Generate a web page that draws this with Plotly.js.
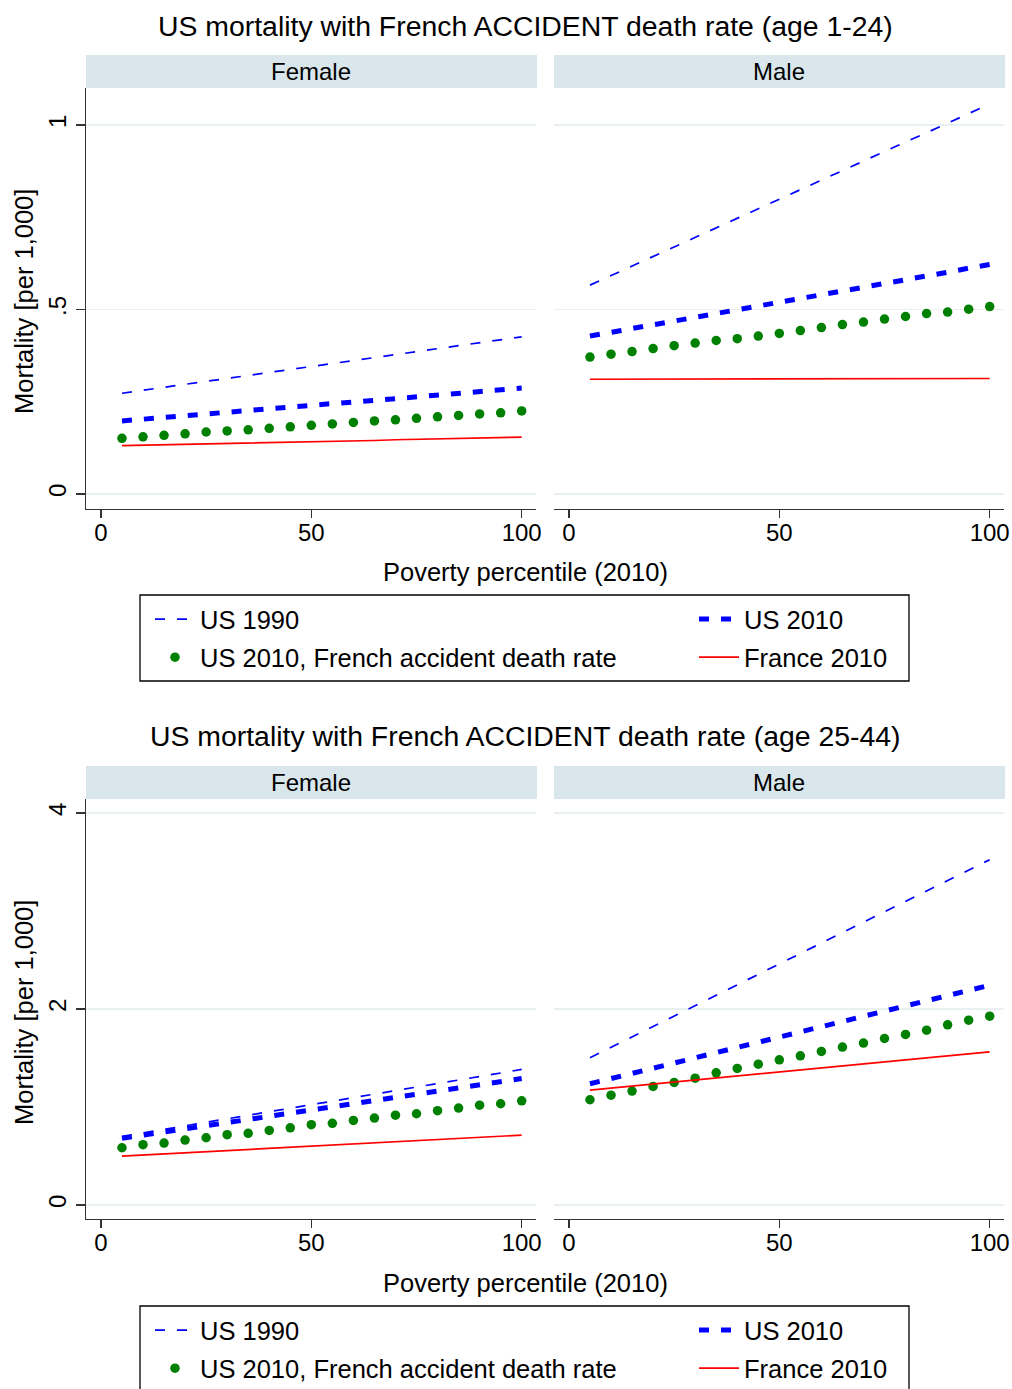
<!DOCTYPE html>
<html>
<head>
<meta charset="utf-8">
<script src="https://cdn.plot.ly/plotly-3.0.1.min.js"></script>
<style>
  html, body { margin: 0; padding: 0; background: #fff; width: 1012px; height: 1389px; overflow: hidden; }
  #chart { width: 1012px; height: 1389px; overflow: hidden; }
</style>
</head>
<body>
<div id="chart"></div>
<script>
// Poverty percentile (ventiles)
const pct = [5, 10, 15, 20, 25, 30, 35, 40, 45, 50, 55, 60, 65, 70, 75, 80, 85, 90, 95, 100];

// Mortality per 1,000, age 1-24
const young_f_us1990 = [0.273,0.281,0.289,0.297,0.305,0.313,0.321,0.329,0.337,0.345,0.354,0.362,0.370,0.378,0.386,0.394,0.402,0.410,0.418,0.426];
const young_f_us2010 = [0.198,0.203,0.207,0.212,0.217,0.221,0.226,0.231,0.235,0.240,0.245,0.249,0.254,0.259,0.264,0.268,0.273,0.278,0.282,0.287];
const young_f_frAcc  = [0.151,0.155,0.159,0.163,0.168,0.171,0.174,0.178,0.182,0.186,0.190,0.194,0.198,0.201,0.205,0.209,0.213,0.217,0.220,0.225];
const young_f_fr2010 = [0.131,0.132,0.133,0.135,0.136,0.137,0.138,0.139,0.141,0.142,0.143,0.144,0.145,0.147,0.148,0.149,0.150,0.151,0.153,0.154];

const young_m_us1990 = [0.566,0.592,0.618,0.644,0.669,0.695,0.721,0.747,0.773,0.799,0.824,0.850,0.876,0.902,0.928,0.954,0.979,1.005,1.031,1.057];
const young_m_us2010 = [0.428,0.438,0.448,0.459,0.469,0.479,0.489,0.499,0.510,0.520,0.530,0.540,0.550,0.561,0.571,0.581,0.591,0.601,0.612,0.622];
const young_m_frAcc  = [0.371,0.379,0.386,0.394,0.402,0.409,0.416,0.421,0.428,0.435,0.443,0.451,0.459,0.466,0.474,0.481,0.489,0.493,0.501,0.508];
const young_m_fr2010 = [0.311,0.311,0.311,0.311,0.311,0.311,0.312,0.312,0.312,0.312,0.312,0.312,0.312,0.312,0.312,0.313,0.313,0.313,0.313,0.313];

// Mortality per 1,000, age 25-44
const adult_f_us1990 = [0.700,0.736,0.772,0.808,0.844,0.880,0.916,0.952,0.988,1.024,1.059,1.095,1.131,1.167,1.203,1.239,1.275,1.311,1.347,1.383];
const adult_f_us2010 = [0.680,0.712,0.744,0.776,0.808,0.840,0.873,0.905,0.937,0.969,1.001,1.033,1.065,1.097,1.129,1.162,1.194,1.226,1.258,1.290];
const adult_f_frAcc  = [0.584,0.615,0.632,0.663,0.686,0.717,0.731,0.761,0.788,0.819,0.833,0.863,0.887,0.917,0.931,0.962,0.989,1.019,1.033,1.063];
const adult_f_fr2010 = [0.499,0.510,0.522,0.533,0.544,0.555,0.567,0.578,0.589,0.600,0.612,0.623,0.634,0.645,0.657,0.668,0.679,0.690,0.702,0.713];

const adult_m_us1990 = [1.502,1.608,1.715,1.821,1.928,2.034,2.141,2.247,2.353,2.460,2.566,2.673,2.779,2.885,2.992,3.098,3.205,3.311,3.418,3.524];
const adult_m_us2010 = [1.237,1.290,1.343,1.396,1.449,1.502,1.555,1.608,1.661,1.714,1.766,1.819,1.872,1.925,1.978,2.031,2.084,2.137,2.190,2.243];
const adult_m_frAcc  = [1.074,1.121,1.162,1.210,1.250,1.294,1.349,1.393,1.437,1.481,1.522,1.567,1.611,1.652,1.699,1.740,1.784,1.838,1.886,1.927];
const adult_m_fr2010 = [1.172,1.193,1.213,1.234,1.254,1.275,1.296,1.316,1.337,1.357,1.378,1.398,1.419,1.440,1.460,1.481,1.501,1.522,1.542,1.563];

// Labels
const seriesNames = ['US 1990', 'US 2010', 'US 2010, French accident death rate', 'France 2010'];
const panelNames = ['Female', 'Male'];
const chartTitles = [
  'US mortality with French ACCIDENT death rate (age 1-24)',
  'US mortality with French ACCIDENT death rate (age 25-44)'
];
const xTitle = 'Poverty percentile (2010)';
const yTitle = 'Mortality [per 1,000]';
const xTickVals = [0, 50, 100];
const yTickValsYoung = [0, 0.5, 1];
const yTickTextYoung = ['0', '.5', '1'];
const yTickValsAdult = [0, 2, 4];
const yTickTextAdult = ['0', '2', '4'];

// ---- drawing ----
const W = 1012, H = 1389;
const px = v => v / W;
const py = v => 1 - v / H;
const FONT = 'Liberation Sans, Arial, Helvetica, sans-serif';
const BLUE = '#0000ff', GREEN = '#008000', RED = '#ff0000';
const AXIS = '#333333', GRID = '#e9f0f2', STRIP = '#d9e6eb';

function panelTraces(xa, ya, vals, legA, legB, show) {
  return [
    { x: pct, y: vals[0], xaxis: xa, yaxis: ya, name: seriesNames[0], type: 'scatter', mode: 'lines',
      line: { color: BLUE, width: 1.7, dash: '10px,12px' }, legend: legA, legendgroup: legA + 'a', showlegend: show },
    { x: pct, y: vals[1], xaxis: xa, yaxis: ya, name: seriesNames[1], type: 'scatter', mode: 'lines',
      line: { color: BLUE, width: 5, dash: '10px,12px' }, legend: legB, legendgroup: legB + 'a', showlegend: show },
    { x: pct, y: vals[2], xaxis: xa, yaxis: ya, name: seriesNames[2], type: 'scatter', mode: 'markers',
      marker: { color: GREEN, size: 9.5, symbol: 'circle' }, legend: legA, legendgroup: legA + 'b', showlegend: show },
    { x: pct, y: vals[3], xaxis: xa, yaxis: ya, name: seriesNames[3], type: 'scatter', mode: 'lines',
      line: { color: RED, width: 1.7 }, legend: legB, legendgroup: legB + 'b', showlegend: show }
  ];
}

const data = [].concat(
  panelTraces('x', 'y', [young_f_us1990, young_f_us2010, young_f_frAcc, young_f_fr2010], 'legend', 'legend2', true),
  panelTraces('x2', 'y2', [young_m_us1990, young_m_us2010, young_m_frAcc, young_m_fr2010], 'legend', 'legend2', false),
  panelTraces('x3', 'y3', [adult_f_us1990, adult_f_us2010, adult_f_frAcc, adult_f_fr2010], 'legend3', 'legend4', true),
  panelTraces('x4', 'y4', [adult_m_us1990, adult_m_us2010, adult_m_frAcc, adult_m_fr2010], 'legend3', 'legend4', false)
);

function xAxis(left, right, anchor) {
  return {
    domain: [px(left), px(right)], anchor: anchor, range: [-3.55, 103.4],
    tickmode: 'array', tickvals: xTickVals, ticks: 'outside', ticklen: 8, tickwidth: 1.3, tickcolor: AXIS,
    ticklabelstandoff: -6,
    showline: true, linecolor: AXIS, linewidth: 1.3, showgrid: false, zeroline: false,
    tickfont: { family: FONT, size: 24, color: '#000' }, fixedrange: true
  };
}
function yAxis(top, bottom, anchor, range, vals, text, first) {
  return {
    domain: [py(bottom), py(top)], anchor: anchor, range: range,
    tickmode: 'array', tickvals: vals, ticktext: text,
    ticks: first ? 'outside' : '', ticklen: 9, tickwidth: 1.3, tickcolor: AXIS,
    showticklabels: first, tickangle: -90,
    showline: first, linecolor: AXIS, linewidth: 1.3,
    showgrid: true, gridcolor: GRID, gridwidth: 1.3, zeroline: false,
    tickfont: { family: FONT, size: 24, color: '#000' }, fixedrange: true
  };
}

function legendAt(left, top) {
  return {
    x: px(left), xanchor: 'left', y: py(top), yanchor: 'top',
    orientation: 'v', bgcolor: 'rgba(0,0,0,0)', borderwidth: 0,
    itemwidth: 40, traceorder: 'grouped', tracegroupgap: 2,
    font: { family: FONT, size: 25.5, color: '#000' }
  };
}

const annotations = [];
const shapes = [];
[0, 711].forEach((off, i) => {
  annotations.push({ text: chartTitles[i], xref: 'paper', yref: 'paper', x: px(525), y: py(25.5 + off),
    xanchor: 'center', yanchor: 'middle', showarrow: false, font: { family: FONT, size: 28.4, color: '#000' } });
  [[86, 536], [554, 1004]].forEach((b, j) => {
    shapes.push({ type: 'rect', xref: 'paper', yref: 'paper', x0: px(b[0]), x1: px(b[1] + 1),
      y0: py(88 + off), y1: py(55 + off), fillcolor: STRIP, line: { width: 0 }, layer: 'below' });
    annotations.push({ text: panelNames[j], xref: 'paper', yref: 'paper', x: px((b[0] + b[1]) / 2), y: py(71.5 + off),
      xanchor: 'center', yanchor: 'middle', showarrow: false, font: { family: FONT, size: 24, color: '#000' } });
  });
  annotations.push({ text: xTitle, xref: 'paper', yref: 'paper', x: px(525), y: py(572 + off),
    xanchor: 'center', yanchor: 'middle', showarrow: false, font: { family: FONT, size: 25.5, color: '#000' } });
  annotations.push({ text: yTitle, xref: 'paper', yref: 'paper', x: px(24), y: py(302 + off), textangle: -90,
    xanchor: 'center', yanchor: 'middle', showarrow: false, font: { family: FONT, size: 25.5, color: '#000' } });
  shapes.push({ type: 'rect', xref: 'paper', yref: 'paper', x0: px(140), x1: px(909),
    y0: py(681 + off), y1: py(595 + off), line: { color: '#000', width: 1.3 }, fillcolor: 'rgba(0,0,0,0)' });
});

const layout = {
  width: W, height: H,
  margin: { l: 0, r: 0, t: 0, b: 0, autoexpand: false },
  paper_bgcolor: '#fff', plot_bgcolor: '#fff',
  font: { family: FONT, color: '#000' },
  xaxis:  xAxis(86, 536, 'y'),
  xaxis2: xAxis(554, 1004, 'y2'),
  xaxis3: xAxis(86, 536, 'y3'),
  xaxis4: xAxis(554, 1004, 'y4'),
  yaxis:  yAxis(88, 509, 'x', [-0.0407, 1.1003], yTickValsYoung, yTickTextYoung, true),
  yaxis2: yAxis(88, 509, 'x2', [-0.0407, 1.1003], yTickValsYoung, yTickTextYoung, false),
  yaxis3: yAxis(799, 1219, 'x3', [-0.143, 4.143], yTickValsAdult, yTickTextAdult, true),
  yaxis4: yAxis(799, 1219, 'x4', [-0.143, 4.143], yTickValsAdult, yTickTextAdult, false),
  legend:  legendAt(150, 596),
  legend2: legendAt(694, 596),
  legend3: legendAt(150, 1307),
  legend4: legendAt(694, 1307),
  annotations: annotations,
  shapes: shapes
};

Plotly.newPlot('chart', data, layout, { displayModeBar: false, staticPlot: true });
</script>
</body>
</html>
